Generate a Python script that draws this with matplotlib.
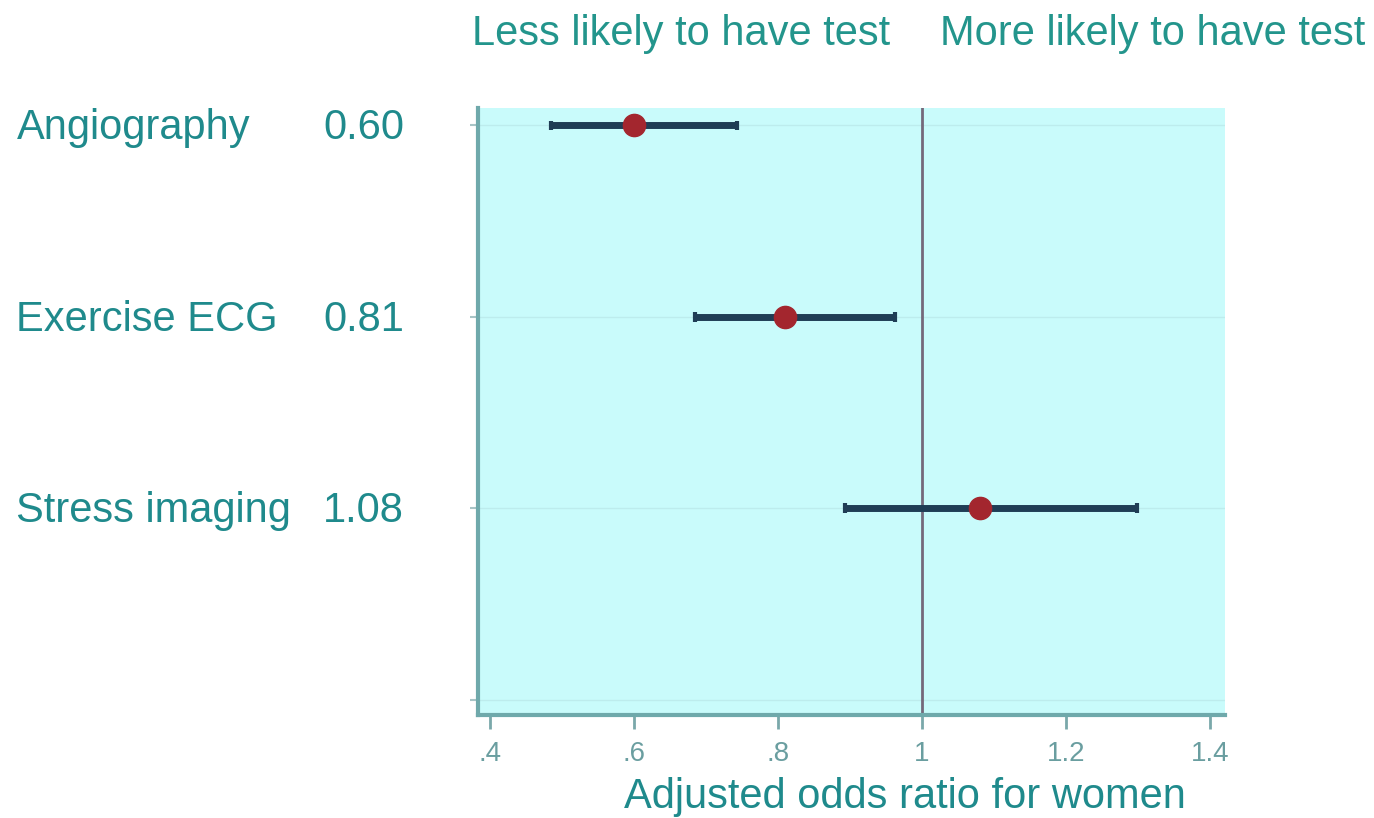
import matplotlib.pyplot as plt
import matplotlib.transforms as mtransforms

# data
tests = ["Angiography", "Exercise ECG", "Stress imaging"]
odds = [0.60, 0.81, 1.08]
ci_low = [0.485, 0.685, 0.893]
ci_high = [0.743, 0.963, 1.299]
xticks = [0.4, 0.6, 0.8, 1.0, 1.2, 1.4]
xtick_labels = [".4", ".6", ".8", "1", "1.2", "1.4"]

teal = "#1f8a8c"
plt.rcParams["font.family"] = ["Liberation Sans", "DejaVu Sans"]

fig = plt.figure(figsize=(13.74, 8.18), dpi=100)
ax = fig.add_axes([0.3479, 0.1259, 0.5437, 0.742])
ax.set_facecolor("#c9fbfb")

rows = list(range(1, len(tests) + 1))

# confidence intervals with small caps
ax.hlines(rows, ci_low, ci_high, color="#1f3d55", lw=5, zorder=3)
ax.vlines(ci_low + ci_high, [r - 0.025 for r in rows] * 2,
          [r + 0.025 for r in rows] * 2, color="#1f3d55", lw=3, zorder=3)
ax.plot(odds, rows, "o", color="#a3262e", markersize=16, zorder=4)

# reference line at 1
ax.axvline(1.0, color="#74687a", lw=2, zorder=2)

# faint row gridlines
for r in rows + [4]:
    ax.axhline(r, color="#bdeced", lw=1, zorder=1)

ax.set_xlim(0.383, 1.421)
ax.set_ylim(4.08, 0.91)
ax.set_xticks(xticks)
ax.set_xticklabels(xtick_labels, fontsize=20, color="#6a9ea0")
ax.set_yticks(rows + [4])
ax.set_yticklabels([])
ax.tick_params(axis="x", length=10, width=2, color="#7aa8aa", pad=9)
ax.tick_params(axis="y", length=6, width=1.5, color="#a8c4c6")

for side in ["top", "right"]:
    ax.spines[side].set_visible(False)
for side in ["left", "bottom"]:
    ax.spines[side].set_color("#6fa9ab")
    ax.spines[side].set_linewidth(3)

# left labels
trans = mtransforms.blended_transform_factory(fig.transFigure, ax.transData)
for r, name, val in zip(rows, tests, odds):
    ax.text(0.012, r + 0.015, name, transform=trans, ha="left", va="center",
            fontsize=30, color=teal)
    ax.text(0.294, r + 0.015, f"{val:.2f}", transform=trans, ha="right",
            va="center", fontsize=30, color=teal)

# header texts
htrans = mtransforms.blended_transform_factory(ax.transData, fig.transFigure)
ax.text(0.956, 0.958, "Less likely to have test", transform=htrans,
        ha="right", va="center", fontsize=30, color="#23958c")
ax.text(1.025, 0.958, "More likely to have test", transform=htrans,
        ha="left", va="center", fontsize=30, color="#23958c")

# x axis title
ax.text(0.976, 0.026, "Adjusted odds ratio for women", transform=htrans,
        ha="center", va="center", fontsize=30, color=teal)

plt.savefig("out.png", dpi=100)
plt.close()
